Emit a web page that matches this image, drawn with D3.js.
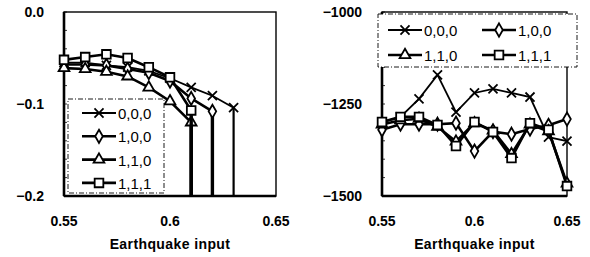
<!DOCTYPE html>
<html>
<head>
<meta charset="utf-8">
<script src="https://cdn.jsdelivr.net/npm/d3@7"></script>
<style>
  body { margin: 0; background: #fff; }
  text { font-family: "Liberation Sans", Arial, sans-serif; font-weight: bold; fill: #000; }
</style>
</head>
<body>
<div id="chart"></div>
<script>
// series names (legend)
const seriesNames = ["0,0,0", "1,0,0", "1,1,0", "1,1,1"];
const symbols = [d3.symbolTimes, d3.symbolDiamond, d3.symbolTriangle, d3.symbolSquare];

// left chart: values until failure, then a drop to the bottom
const leftX = [0.55, 0.56, 0.57, 0.58, 0.59, 0.60, 0.61, 0.62, 0.63];
const left000 = [-0.055, -0.055, -0.058, -0.060, -0.064, -0.072, -0.082, -0.091, -0.104];
const left100 = [-0.057, -0.057, -0.058, -0.062, -0.066, -0.075, -0.094, -0.108];
const left110 = [-0.061, -0.062, -0.065, -0.070, -0.082, -0.097, -0.120];
const left111 = [-0.052, -0.049, -0.046, -0.050, -0.060, -0.071, -0.107];
const leftXTicks = [0.55, 0.6, 0.65];
const leftYTicks = [0.0, -0.1, -0.2];

// right chart
const rightX = [0.55, 0.56, 0.57, 0.58, 0.59, 0.60, 0.61, 0.62, 0.63, 0.64, 0.65];
const right000 = [-1300, -1285, -1236, -1171, -1272, -1220, -1209, -1220, -1231, -1340, -1351];
const right100 = [-1320, -1305, -1305, -1305, -1302, -1378, -1325, -1332, -1318, -1308, -1291];
const right110 = [-1306, -1294, -1290, -1312, -1352, -1302, -1322, -1386, -1306, -1324, -1466];
const right111 = [-1299, -1285, -1285, -1307, -1364, -1299, -1326, -1397, -1302, -1320, -1473];
const rightXTicks = [0.55, 0.6, 0.65];
const rightYTicks = [-1000, -1250, -1500];

const svg = d3.select("#chart").append("svg")
    .attr("width", 590)
    .attr("height", 257);

const markSize = [55, 50, 50, 75];

function drawPanel(opt) {
    let x = d3.scaleLinear().domain([0.55, 0.65]).range([opt.x0, opt.x1]);
    let y = d3.scaleLinear().domain(opt.yDomain).range([196, 12]);
    let g = svg.append("g");
    let yMin = opt.yDomain[0], yMax = opt.yDomain[1];

    // frame: thin top/right, thick left/bottom
    g.append("rect")
        .attr("x", x(0.55)).attr("y", y(yMax))
        .attr("width", x(0.65) - x(0.55)).attr("height", y(yMin) - y(yMax))
        .attr("fill", "none").attr("stroke", "#000").attr("stroke-width", 1.4);
    g.append("line")
        .attr("x1", x(0.55)).attr("x2", x(0.55)).attr("y1", y(yMax)).attr("y2", y(yMin))
        .attr("stroke", "#000").attr("stroke-width", 2.6);
    g.append("line")
        .attr("x1", x(0.55)).attr("x2", x(0.65)).attr("y1", y(yMin)).attr("y2", y(yMin))
        .attr("stroke", "#000").attr("stroke-width", 2.6);

    // small inner ticks on the y axis
    g.selectAll(".mt")
        .data(y.ticks(10))
        .join("line")
        .attr("x1", x(0.55)).attr("x2", x(0.55) + 3)
        .attr("y1", d => y(d)).attr("y2", d => y(d))
        .attr("stroke", "#000").attr("stroke-width", 0.8);

    // tick labels
    g.selectAll(".yl")
        .data(opt.yTicks)
        .join("text")
        .attr("x", x(0.55) - 20).attr("y", d => y(d) + 5)
        .attr("text-anchor", "end").attr("font-size", 14)
        .text(d => opt.yFormat(d).replace("-", "\u2212"));
    g.selectAll(".xl")
        .data(opt.xTicks)
        .join("text")
        .attr("x", d => x(d)).attr("y", 226)
        .attr("text-anchor", "middle").attr("font-size", 14)
        .text(d => d3.format("")(d));
    g.append("text")
        .attr("x", (x(0.55) + x(0.65)) / 2).attr("y", 249)
        .attr("text-anchor", "middle").attr("font-size", 14)
        .attr("letter-spacing", 0.4)
        .text("Earthquake input");

    let line = d3.line().x(d => x(d[0])).y(d => y(d[1]));
    opt.series.forEach((vals, i) => {
        let pts = vals.map((v, j) => [opt.xs[j], v]);
        let w = i == 0 ? 1.8 : 2.6;
        g.append("path").datum(pts)
            .attr("d", line)
            .attr("fill", "none").attr("stroke", "#000").attr("stroke-width", w);
        if (opt.drop) {
            let last = pts[pts.length - 1];
            g.append("line")
                .attr("x1", x(last[0])).attr("x2", x(last[0]))
                .attr("y1", y(last[1])).attr("y2", y(yMin))
                .attr("stroke", "#000").attr("stroke-width", i == 0 ? 2.2 : 3.4);
        }
        g.selectAll(".m" + i)
            .data(pts)
            .join("path")
            .attr("transform", d => `translate(${x(d[0])},${y(d[1])})`)
            .attr("d", d3.symbol().type(symbols[i]).size(markSize[i]))
            .attr("fill", i == 0 ? "none" : "#fff")
            .attr("stroke", "#000").attr("stroke-width", 1.8);
    });
    return g;
}

function legendEntry(g, i, lx, ly) {
    g.append("line")
        .attr("x1", lx).attr("x2", lx + 34).attr("y1", ly).attr("y2", ly)
        .attr("stroke", "#000").attr("stroke-width", i == 0 ? 1.8 : 2.6);
    g.append("path")
        .attr("transform", `translate(${lx + 17},${ly})`)
        .attr("d", d3.symbol().type(symbols[i]).size(markSize[i]))
        .attr("fill", i == 0 ? "none" : "#fff")
        .attr("stroke", "#000").attr("stroke-width", 1.8);
    g.append("text")
        .attr("x", lx + 36).attr("y", ly + 6)
        .attr("font-size", 15).style("font-weight", "normal")
        .text(seriesNames[i]);
}

// left panel
let gl = drawPanel({
    x0: 64, x1: 276, yDomain: [-0.2, 0.0], yTicks: leftYTicks, xTicks: leftXTicks,
    yFormat: d3.format(".1f"), xs: leftX, drop: true,
    series: [left000, left100, left110, left111]
});
gl.append("rect")
    .attr("x", 68).attr("y", 99).attr("width", 96).attr("height", 94)
    .attr("fill", "#fff").attr("stroke", "#000").attr("stroke-width", 0.9)
    .attr("stroke-dasharray", "5,2,1,2");
seriesNames.forEach((n, i) => legendEntry(gl, i, 82, 113 + i * 23.3));

// right panel
let gr = drawPanel({
    x0: 382, x1: 567, yDomain: [-1500, -1000], yTicks: rightYTicks, xTicks: rightXTicks,
    yFormat: d3.format("d"), xs: rightX, drop: false,
    series: [right000, right100, right110, right111]
});
gr.append("rect")
    .attr("x", 378).attr("y", 14).attr("width", 199).attr("height", 53)
    .attr("fill", "#fff").attr("stroke", "#000").attr("stroke-width", 0.9)
    .attr("stroke-dasharray", "5,2,1,2");
legendEntry(gr, 0, 388, 30);
legendEntry(gr, 1, 482, 30);
legendEntry(gr, 2, 388, 55);
legendEntry(gr, 3, 482, 55);
</script>
</body>
</html>
